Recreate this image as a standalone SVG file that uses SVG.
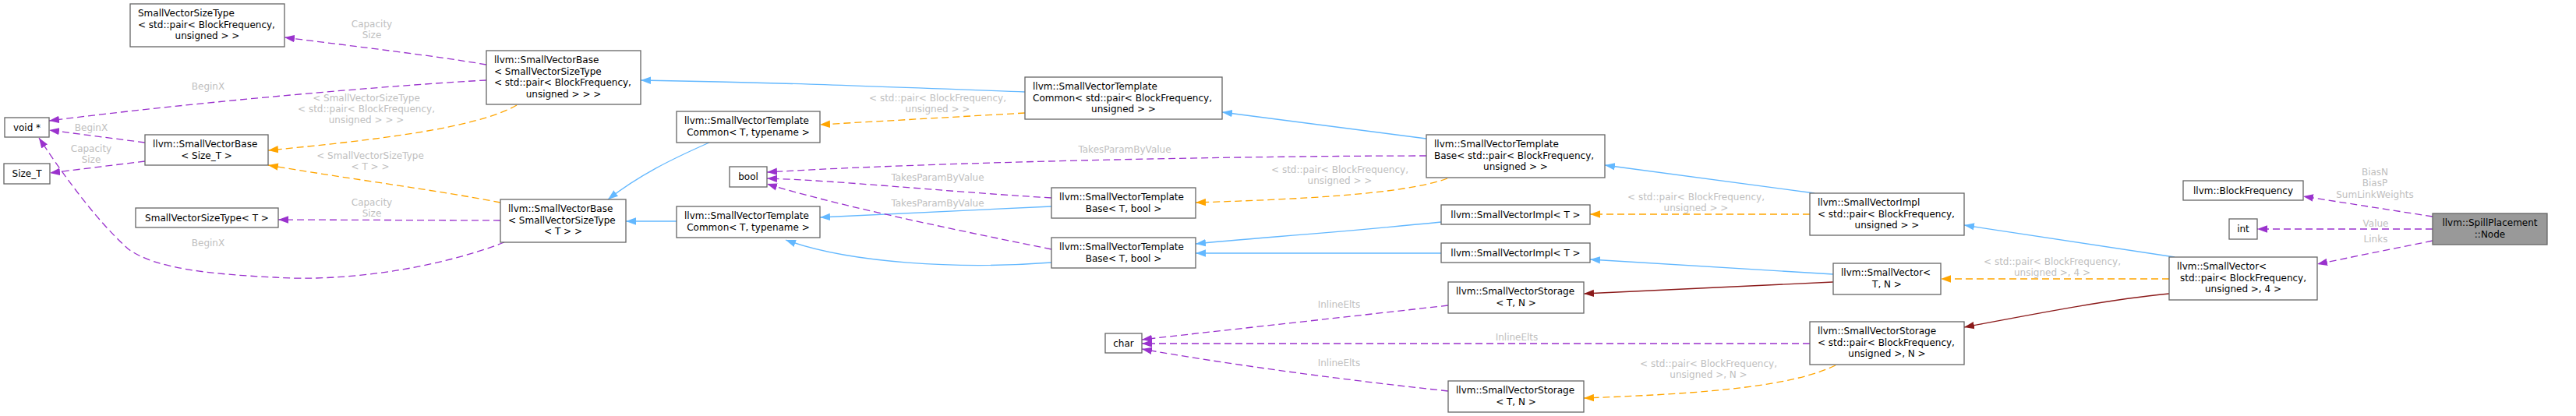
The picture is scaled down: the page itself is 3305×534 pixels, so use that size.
<svg xmlns="http://www.w3.org/2000/svg" width="3305" height="534" viewBox="0 0 3305 534">
<style>
.node rect{fill:#fff;stroke:#666;stroke-width:1.3}
.node text{font-family:"DejaVu Sans",sans-serif;font-size:12px;fill:#000}
.node .m{text-anchor:middle}
.root rect{fill:#999}
.lbl{font-family:"DejaVu Sans",sans-serif;font-size:12px;fill:#c0c0c0;text-anchor:middle}
.e{fill:none;stroke-width:1.3}
.use{stroke:#9a32cd;stroke-dasharray:9,5;marker-end:url(#ap)}
.tmpl{stroke:#ffa500;stroke-dasharray:9,5;marker-end:url(#ao)}
.pub{stroke:#63b8ff;marker-end:url(#ab)}
.prot{stroke:#8b1a1a;marker-end:url(#ar)}
</style>
<defs>
<marker id="ap" markerUnits="userSpaceOnUse" markerWidth="14" markerHeight="10" refX="13" refY="5" orient="auto"><path d="M0,0.3 L13,5 L0,9.7 z" fill="#9a32cd"/></marker>
<marker id="ao" markerUnits="userSpaceOnUse" markerWidth="14" markerHeight="10" refX="13" refY="5" orient="auto"><path d="M0,0.3 L13,5 L0,9.7 z" fill="#ffa500"/></marker>
<marker id="ab" markerUnits="userSpaceOnUse" markerWidth="14" markerHeight="10" refX="13" refY="5" orient="auto"><path d="M0,0.3 L13,5 L0,9.7 z" fill="#63b8ff"/></marker>
<marker id="ar" markerUnits="userSpaceOnUse" markerWidth="14" markerHeight="10" refX="13" refY="5" orient="auto"><path d="M0,0.3 L13,5 L0,9.7 z" fill="#8b1a1a"/></marker>
</defs>
<rect width="3305" height="534" fill="#fff"/>
<g id="connectors">
<path class="e use" d="M3121,278 L2955,252"/>
<path class="e use" d="M3121,294 L2896,294"/>
<path class="e use" d="M3121,309 L2973,339"/>
<path class="e pub" d="M2790,330 L2520,289"/>
<path class="e tmpl" d="M2783,358 L2490,358"/>
<path class="e prot" d="M2783,377 C2700,385 2600,405 2520,420"/>
<path class="e pub" d="M2328,248 L2059,212"/>
<path class="e tmpl" d="M2322,275 L2040,275"/>
<path class="e pub" d="M1830,178 L1568,144"/>
<path class="e use" d="M1830,200 C1600,200 1200,208 984,221"/>
<path class="e tmpl" d="M1857,229 C1800,250 1660,256 1534,260"/>
<path class="e pub" d="M1315,118 C1100,110 1000,106 822,103"/>
<path class="e tmpl" d="M1315,145 L1052,160"/>
<path class="e use" d="M624,83 C560,72 460,60 365,48"/>
<path class="e use" d="M624,103 C560,106 300,125 63,155"/>
<path class="e pub" d="M910,183 C860,205 820,225 780,256"/>
<path class="e tmpl" d="M663,135 C610,165 480,180 344,193"/>
<path class="e tmpl" d="M642,260 C560,244 450,230 344,212"/>
<path class="e use" d="M186,183 L63,167"/>
<path class="e use" d="M186,207 L64,222"/>
<path class="e use" d="M647,311 C560,345 440,362 353,356 C270,352 200,345 165,320 C120,280 75,215 50,177"/>
<path class="e use" d="M642,283 L357,282"/>
<path class="e pub" d="M868,284 L803,284"/>
<path class="e pub" d="M1349,265 L1052,279"/>
<path class="e pub" d="M1349,337 C1230,346 1090,338 1008,308"/>
<path class="e use" d="M1349,254 C1200,245 1080,232 984,229"/>
<path class="e use" d="M1349,320 C1200,290 1060,260 984,236"/>
<path class="e pub" d="M1849,285 C1700,300 1600,306 1534,313"/>
<path class="e pub" d="M1849,325 L1534,325"/>
<path class="e pub" d="M2352,352 L2040,333"/>
<path class="e prot" d="M2352,362 L2032,377"/>
<path class="e use" d="M1858,392 C1700,410 1560,425 1465,436"/>
<path class="e use" d="M2322,441 L1465,441"/>
<path class="e use" d="M1858,502 C1700,485 1560,465 1465,448"/>
<path class="e tmpl" d="M2355,469 C2300,495 2200,505 2032,511"/>
<text class="lbl" x="3047" y="224.5">BiasN</text>
<text class="lbl" x="3047" y="239">BiasP</text>
<text class="lbl" x="3047" y="253.5">SumLinkWeights</text>
<text class="lbl" x="3048" y="290.5">Value</text>
<text class="lbl" x="3048" y="310.5">Links</text>
<text class="lbl" x="2633" y="339.5">&lt; std::pair&lt; BlockFrequency,</text>
<text class="lbl" x="2633" y="354">unsigned &gt;, 4 &gt;</text>
<text class="lbl" x="2176" y="256.5">&lt; std::pair&lt; BlockFrequency,</text>
<text class="lbl" x="2176" y="271">unsigned &gt; &gt;</text>
<text class="lbl" x="2192" y="470.5">&lt; std::pair&lt; BlockFrequency,</text>
<text class="lbl" x="2192" y="485">unsigned &gt;, N &gt;</text>
<text class="lbl" x="1719" y="221.5">&lt; std::pair&lt; BlockFrequency,</text>
<text class="lbl" x="1719" y="236">unsigned &gt; &gt;</text>
<text class="lbl" x="1203" y="129.5">&lt; std::pair&lt; BlockFrequency,</text>
<text class="lbl" x="1203" y="143.5">unsigned &gt; &gt;</text>
<text class="lbl" x="1443" y="195.5">TakesParamByValue</text>
<text class="lbl" x="1203" y="231.5">TakesParamByValue</text>
<text class="lbl" x="1203" y="264.5">TakesParamByValue</text>
<text class="lbl" x="1718" y="394.5">InlineElts</text>
<text class="lbl" x="1946" y="436.5">InlineElts</text>
<text class="lbl" x="1718" y="469.5">InlineElts</text>
<text class="lbl" x="477" y="34.5">Capacity</text>
<text class="lbl" x="477" y="48.5">Size</text>
<text class="lbl" x="267" y="114.5">BeginX</text>
<text class="lbl" x="470" y="129.5">&lt; SmallVectorSizeType</text>
<text class="lbl" x="470" y="143.5">&lt; std::pair&lt; BlockFrequency,</text>
<text class="lbl" x="470" y="157.5">unsigned &gt; &gt; &gt;</text>
<text class="lbl" x="117" y="167.5">BeginX</text>
<text class="lbl" x="117" y="194.5">Capacity</text>
<text class="lbl" x="117" y="208.5">Size</text>
<text class="lbl" x="475" y="203.5">&lt; SmallVectorSizeType</text>
<text class="lbl" x="475" y="217.5">&lt; T &gt; &gt;</text>
<text class="lbl" x="477" y="263.5">Capacity</text>
<text class="lbl" x="477" y="277.5">Size</text>
<text class="lbl" x="267" y="315.5">BeginX</text>
</g>
<g id="n_node" class="node root"><rect x="3121" y="274" width="147" height="40"/><text class="m" x="3194.5" y="290">llvm::SpillPlacement</text><text class="m" x="3194.5" y="304.5">::Node</text></g>
<g id="n_bf" class="node"><rect x="2801" y="232" width="154" height="25"/><text class="m" x="2878" y="249">llvm::BlockFrequency</text></g>
<g id="n_int" class="node"><rect x="2860" y="281" width="36" height="26"/><text class="m" x="2878" y="298">int</text></g>
<g id="n_sv_pair4" class="node"><rect x="2783" y="330" width="190" height="55"/><text x="2793" y="346">llvm::SmallVector&lt;</text><text x="2797" y="360.5">std::pair&lt; BlockFrequency,</text><text class="m" x="2878" y="375">unsigned &gt;, 4 &gt;</text></g>
<g id="n_svimpl_pair" class="node"><rect x="2322" y="248" width="198" height="54"/><text x="2332" y="264">llvm::SmallVectorImpl</text><text x="2332" y="278.5">&lt; std::pair&lt; BlockFrequency,</text><text class="m" x="2421" y="293">unsigned &gt; &gt;</text></g>
<g id="n_sv_tn" class="node"><rect x="2352" y="338" width="138" height="40"/><text x="2362" y="354">llvm::SmallVector&lt;</text><text class="m" x="2421" y="368.5">T, N &gt;</text></g>
<g id="n_svstor_pair" class="node"><rect x="2322" y="413" width="198" height="55"/><text x="2332" y="429">llvm::SmallVectorStorage</text><text x="2332" y="443.5">&lt; std::pair&lt; BlockFrequency,</text><text class="m" x="2421" y="458">unsigned &gt;, N &gt;</text></g>
<g id="n_svimpl_t1" class="node"><rect x="1849" y="263" width="191" height="25"/><text class="m" x="1944.5" y="280">llvm::SmallVectorImpl&lt; T &gt;</text></g>
<g id="n_svimpl_t2" class="node"><rect x="1849" y="312" width="191" height="25"/><text class="m" x="1944.5" y="329">llvm::SmallVectorImpl&lt; T &gt;</text></g>
<g id="n_svstor_tn1" class="node"><rect x="1858" y="362" width="174" height="40"/><text x="1868" y="378">llvm::SmallVectorStorage</text><text class="m" x="1945" y="392.5">&lt; T, N &gt;</text></g>
<g id="n_svstor_tn2" class="node"><rect x="1858" y="489" width="174" height="40"/><text x="1868" y="505">llvm::SmallVectorStorage</text><text class="m" x="1945" y="519.5">&lt; T, N &gt;</text></g>
<g id="n_svtb_pair" class="node"><rect x="1830" y="173" width="229" height="55"/><text x="1840" y="189">llvm::SmallVectorTemplate</text><text x="1840" y="203.5">Base&lt; std::pair&lt; BlockFrequency,</text><text class="m" x="1944.5" y="218">unsigned &gt; &gt;</text></g>
<g id="n_svtb_tb1" class="node"><rect x="1349" y="241" width="185" height="39"/><text x="1359" y="257">llvm::SmallVectorTemplate</text><text class="m" x="1441.5" y="271.5">Base&lt; T, bool &gt;</text></g>
<g id="n_svtb_tb2" class="node"><rect x="1349" y="305" width="185" height="39"/><text x="1359" y="321">llvm::SmallVectorTemplate</text><text class="m" x="1441.5" y="335.5">Base&lt; T, bool &gt;</text></g>
<g id="n_char" class="node"><rect x="1418" y="428" width="47" height="25"/><text class="m" x="1441.5" y="445">char</text></g>
<g id="n_svtc_pair" class="node"><rect x="1315" y="99" width="253" height="54"/><text x="1325" y="115">llvm::SmallVectorTemplate</text><text x="1325" y="129.5">Common&lt; std::pair&lt; BlockFrequency,</text><text class="m" x="1441.5" y="144">unsigned &gt; &gt;</text></g>
<g id="n_svtc_t1" class="node"><rect x="868" y="143" width="184" height="40"/><text x="878" y="159">llvm::SmallVectorTemplate</text><text class="m" x="960" y="173.5">Common&lt; T, typename &gt;</text></g>
<g id="n_svtc_t2" class="node"><rect x="868" y="265" width="184" height="40"/><text x="878" y="281">llvm::SmallVectorTemplate</text><text class="m" x="960" y="295.5">Common&lt; T, typename &gt;</text></g>
<g id="n_bool" class="node"><rect x="936" y="214" width="48" height="26"/><text class="m" x="960" y="231">bool</text></g>
<g id="n_svb_svst_pair" class="node"><rect x="624" y="65" width="198" height="69"/><text x="634" y="81">llvm::SmallVectorBase</text><text x="634" y="95.5">&lt; SmallVectorSizeType</text><text x="634" y="110">&lt; std::pair&lt; BlockFrequency,</text><text class="m" x="723" y="124.5">unsigned &gt; &gt; &gt;</text></g>
<g id="n_svb_svst_t" class="node"><rect x="642" y="256" width="161" height="55"/><text x="652" y="272">llvm::SmallVectorBase</text><text x="652" y="286.5">&lt; SmallVectorSizeType</text><text class="m" x="722.5" y="301">&lt; T &gt; &gt;</text></g>
<g id="n_svst_pair" class="node"><rect x="167" y="5" width="198" height="55"/><text x="177" y="21">SmallVectorSizeType</text><text x="177" y="35.5">&lt; std::pair&lt; BlockFrequency,</text><text class="m" x="266" y="50">unsigned &gt; &gt;</text></g>
<g id="n_svst_t" class="node"><rect x="174" y="267" width="183" height="25"/><text class="m" x="265.5" y="284">SmallVectorSizeType&lt; T &gt;</text></g>
<g id="n_svb_size" class="node"><rect x="186" y="173" width="158" height="39"/><text x="196" y="189">llvm::SmallVectorBase</text><text class="m" x="265" y="203.5">&lt; Size_T &gt;</text></g>
<g id="n_void" class="node"><rect x="6" y="151" width="57" height="25"/><text class="m" x="34.5" y="168">void *</text></g>
<g id="n_sizet" class="node"><rect x="5" y="210" width="59" height="26"/><text class="m" x="34.5" y="227">Size_T</text></g>
</svg>
